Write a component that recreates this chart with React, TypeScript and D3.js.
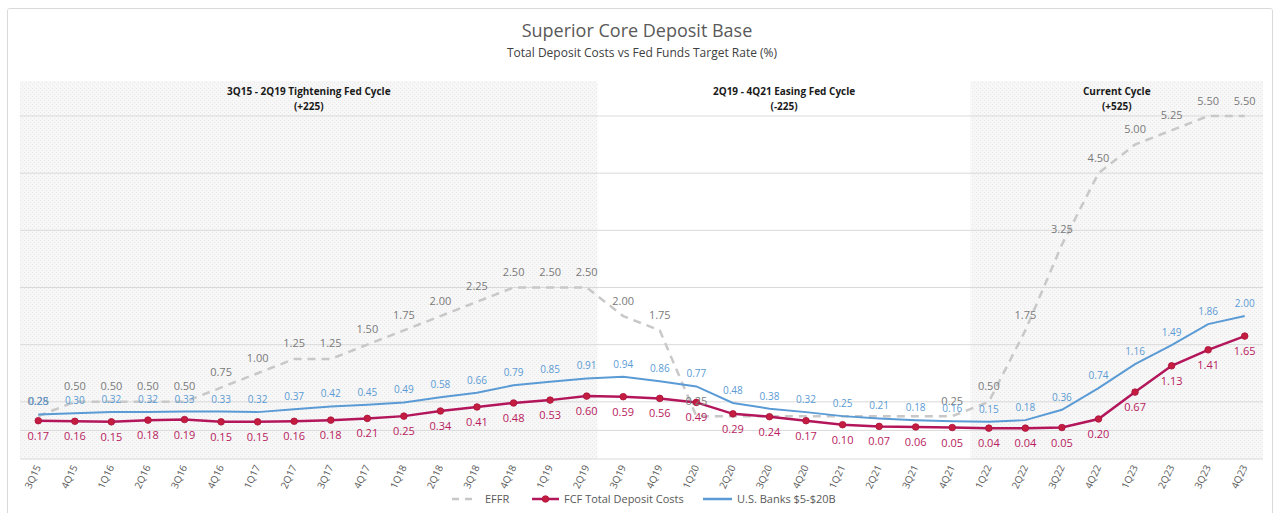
import React from "react";
import * as d3 from "d3";

const categories = ["3Q15","4Q15","1Q16","2Q16","3Q16","4Q16","1Q17","2Q17","3Q17","4Q17","1Q18","2Q18","3Q18","4Q18","1Q19","2Q19","3Q19","4Q19","1Q20","2Q20","3Q20","4Q20","1Q21","2Q21","3Q21","4Q21","1Q22","2Q22","3Q22","4Q22","1Q23","2Q23","3Q23","4Q23"];
const effr = [0.25,0.5,0.5,0.5,0.5,0.75,1.0,1.25,1.25,1.5,1.75,2.0,2.25,2.5,2.5,2.5,2.0,1.75,0.25,0.25,0.25,0.25,0.25,0.25,0.25,0.25,0.5,1.75,3.25,4.5,5.0,5.25,5.5,5.5];
const effrHiddenLabels = ["2Q20","3Q20","4Q20","1Q21","2Q21","3Q21"];
const fcf = [0.17,0.16,0.15,0.18,0.19,0.15,0.15,0.16,0.18,0.21,0.25,0.34,0.41,0.48,0.53,0.60,0.59,0.56,0.49,0.29,0.24,0.17,0.10,0.07,0.06,0.05,0.04,0.04,0.05,0.20,0.67,1.13,1.41,1.65];
const usBanks = [0.28,0.30,0.32,0.32,0.33,0.33,0.32,0.37,0.42,0.45,0.49,0.58,0.66,0.79,0.85,0.91,0.94,0.86,0.77,0.48,0.38,0.32,0.25,0.21,0.18,0.16,0.15,0.18,0.36,0.74,1.16,1.49,1.86,2.00];
const gridTicks = [-0.5,0.5,1.5,2.5,3.5,4.5,5.5];
const periodTitles = ["3Q15 - 2Q19 Tightening Fed Cycle","2Q19 - 4Q21 Easing Fed Cycle","Current Cycle"];
const periodChanges = ["(+225)","(-225)","(+525)"];
const seriesNames = ["EFFR","FCF Total Deposit Costs","U.S. Banks $5-$20B"];

const W = 1274, H = 513;
const FONT = "'Open Sans', 'Noto Sans', sans-serif";
const C_EFFR = "#c8c8c8", C_EFFR_TXT = "#7a7a7a";
const C_FCF = "#b3165a", C_FCF_DOT = "#c51d3f", C_FCF_TXT = "#b81b5e";
const C_BLUE = "#5b9bd5";

export default function App() {
  const x = d3.scaleBand<string>().domain(categories).range([20, 1263]).padding(0);
  const y = d3.scaleLinear().domain([-0.5, 5.5]).range([459, 116]);
  const cx = (c: string) => (x(c) as number) + x.bandwidth() / 2;
  const line = d3.line<number>().x((_, i) => cx(categories[i])).y((d) => y(d));
  const bw = x.bandwidth();
  const shadeTop = y(5.5) - 35;
  const shadeBottom = y(-0.5);
  const leftStart = x(categories[0]) as number;
  const leftEnd = (x("3Q19") as number) - 0.2 * bw;
  const rightStart = x("1Q22") as number;
  const rightEnd = x.range()[1];
  const periodCenters = [(leftStart + leftEnd) / 2, (leftEnd + rightStart) / 2, (rightStart + rightEnd) / 2];

  return (
    <svg width={W} height={H} style={{ position: "absolute", left: 0, top: 0, background: "#fff" }} fontFamily={FONT}>
      <defs>
        <pattern id="dots" width="4" height="4" patternUnits="userSpaceOnUse">
          <rect width="4" height="4" fill="#f7f7f7" />
          <rect x="0" y="0" width="1" height="1" fill="#e8e8e8" />
          <rect x="2" y="2" width="1" height="1" fill="#e8e8e8" />
        </pattern>
      </defs>
      <rect x={7.5} y={8.5} width={1265} height={520} fill="#fff" stroke="#d9d9d9" strokeWidth={1} rx={2} />
      <rect x={leftStart} y={shadeTop} width={leftEnd - leftStart} height={shadeBottom - shadeTop} fill="url(#dots)" />
      <rect x={rightStart} y={shadeTop} width={rightEnd - rightStart} height={shadeBottom - shadeTop} fill="url(#dots)" />

      <text x={637} y={37} textAnchor="middle" fontSize={18} fill="#595959">Superior Core Deposit Base</text>
      <text x={642} y={57} textAnchor="middle" fontSize={12} fill="#404040">Total Deposit Costs vs Fed Funds Target Rate (%)</text>

      {periodTitles.map((t, i) => (
        <g key={t}>
          <text x={periodCenters[i]} y={95} textAnchor="middle" fontSize={10} fontWeight="bold" fill="#1a1a1a">{t}</text>
          <text x={periodCenters[i]} y={110} textAnchor="middle" fontSize={10} fontWeight="bold" fill="#1a1a1a">{periodChanges[i]}</text>
        </g>
      ))}

      {gridTicks.map((t) => (
        <line key={t} x1={20} x2={1263} y1={y(t)} y2={y(t)} stroke="#d9d9d9" strokeWidth={1} />
      ))}
      <line x1={20} x2={1263} y1={y(0)} y2={y(0)} stroke="#d9d9d9" strokeWidth={1} />

      <path d={line(effr) || ""} fill="none" stroke={C_EFFR} strokeWidth={2.5} strokeDasharray="8,6" />
      <path d={line(fcf) || ""} fill="none" stroke={C_FCF} strokeWidth={2.5} />
      {fcf.map((v, i) => (
        <circle key={i} cx={cx(categories[i])} cy={y(v)} r={3.3} fill={C_FCF_DOT} stroke="#a8123f" strokeWidth={0.8} />
      ))}
      <path d={line(usBanks) || ""} fill="none" stroke={C_BLUE} strokeWidth={2} />

      {effr.map((v, i) =>
        effrHiddenLabels.includes(categories[i]) ? null : (
          <text key={"e" + i} x={cx(categories[i])} y={y(v) - 11.5} textAnchor="middle" fontSize={11} fill={C_EFFR_TXT}>{v.toFixed(2)}</text>
        )
      )}
      {usBanks.map((v, i) => (
        <text key={"b" + i} x={cx(categories[i])} y={y(v) - 9} textAnchor="middle" fontSize={10} fill={C_BLUE}>{v.toFixed(2)}</text>
      ))}
      {fcf.map((v, i) => (
        <text key={"f" + i} x={cx(categories[i])} y={y(v) + 19} textAnchor="middle" fontSize={11} fill={C_FCF_TXT}>{v.toFixed(2)}</text>
      ))}

      {categories.map((c) => (
        <text key={c} transform={`translate(${cx(c) + 3},${467}) rotate(-65)`} textAnchor="end" fontSize={10} fill="#595959">{c}</text>
      ))}

      <g fontSize={11} fill="#595959">
        <line x1={452} x2={476} y1={499} y2={499} stroke={C_EFFR} strokeWidth={2.5} strokeDasharray="7,6" />
        <text x={485} y={503}>{seriesNames[0]}</text>
        <line x1={532} x2={559} y1={499} y2={499} stroke={C_FCF} strokeWidth={2.5} />
        <circle cx={545.5} cy={499} r={3.3} fill={C_FCF_DOT} stroke="#a8123f" strokeWidth={0.8} />
        <text x={564} y={503}>{seriesNames[1]}</text>
        <line x1={703} x2={732} y1={499} y2={499} stroke={C_BLUE} strokeWidth={2.5} />
        <text x={737} y={503}>{seriesNames[2]}</text>
      </g>
    </svg>
  );
}
